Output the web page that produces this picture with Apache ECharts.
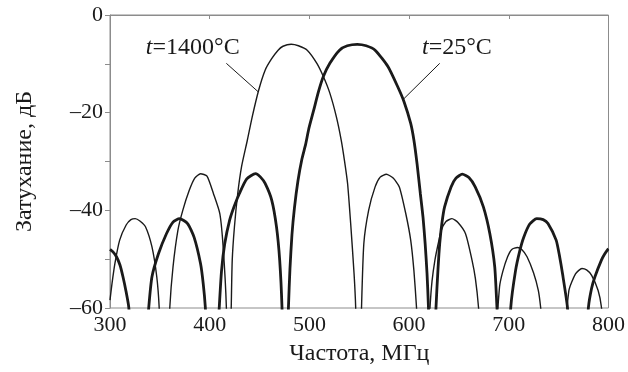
<!DOCTYPE html>
<html>
<head>
<meta charset="utf-8">
<script src="https://cdn.jsdelivr.net/npm/echarts@6/dist/echarts.min.js"></script>
<style>
html,body{margin:0;padding:0;background:#fff;}
#main{width:628px;height:372px;}
</style>
</head>
<body>
<div id="main"></div>
<script>
// затухание, дБ от частоты, МГц
var hot1400 = [
	[300,-58.4],[302,-55],[304.9,-50.9],[309.7,-46.1],[316.2,-43],[321,-41.9],[325.3,-41.7],[330,-42.2],[335.7,-43.4],
	[342.1,-47.5],[346.9,-53.6],[349.3,-59.8],[354.5,-85],[360,-59.8],[363.2,-51.6],[368.1,-44.1],[373,-40],
	[379.5,-35.9],[385,-33.4],[390.8,-32.5],[397.3,-33],[403.8,-36.6],[410.2,-40.7],[413.5,-47.5],[416.7,-59.8],
	[419,-85],[421.6,-59.8],[422.6,-50.2],[424.8,-43.4],[428.1,-36.6],[432,-31],[437.8,-25.6],[442.7,-20.8],
	[449.1,-15.4],[455.6,-11.3],[462,-9],[468.6,-7.2],[473.5,-6.4],[481.7,-6],[489,-6.3],[497.8,-7.2],
	[507.5,-9.9],[514,-12.6],[520.5,-16],[527,-20.8],[531.9,-25.6],[535.1,-29.7],[538.3,-34.5],[541.5,-43],
	[544.8,-53],[546.4,-59.8],[549.3,-85],[552.3,-59.8],[554.6,-46.8],[559.4,-40],[565.9,-35.2],[571,-33.2],
	[577.2,-32.6],[584,-33.4],[590.2,-35.2],[596.7,-40.7],[601.6,-46.1],[604.8,-52.3],[607.4,-59.8],[614,-85],
	[621,-59.8],[623,-54.5],[625.9,-50.2],[629,-47],[632.3,-44.1],[637,-42.3],[643,-41.7],[649,-42.5],
	[656.6,-44.8],[663.1,-50.2],[666.5,-54],[669.6,-59.8],[679,-85],[690.7,-55.7],[694,-52.5],[698.8,-49.5],
	[703,-48],[708.6,-47.6],[713,-48],[718.3,-49.5],[724.8,-52.8],[729.6,-56.4],[731.9,-59.8],[745,-85],
	[760.3,-56.4],[766.9,-53],[773.4,-51.9],[778,-52.2],[783.1,-53.3],[789.6,-56.4],[792.9,-59.8],[800,-75]
];
var room25 = [
	[300,-48],[303,-48.5],[306.5,-49.5],[310,-51.2],[313,-53.6],[316,-56.5],[318.8,-59.8],[329,-85],[338.9,-59.8],
	[342.1,-53.6],[348.6,-48.9],[356.6,-44.8],[363.2,-42.4],[369.7,-41.7],[377.8,-42.7],[384.3,-45.5],[390.8,-50.9],
	[393.5,-55],[395.6,-59.8],[402.6,-85],[409.6,-59.8],[411.9,-52.3],[415.1,-46.8],[420,-42],[424.5,-39.2],
	[429.7,-36.6],[437,-33.6],[446,-32.5],[451,-33.2],[455.6,-34.5],[462.2,-37.9],[467,-43.4],[470.2,-50.2],
	[472.5,-59.8],[475.8,-85],[479,-59.8],[480.5,-52],[482.5,-45],[485,-39.5],[488.5,-34],[492.5,-29.5],
	[496.2,-26.5],[499.4,-23.3],[504.3,-19.5],[509.1,-15.7],[514,-12.6],[520.5,-9.9],[530.2,-7.2],[538,-6.3],
	[548,-6],[557,-6.3],[565.9,-7.2],[578.9,-10.6],[588.6,-14.7],[595,-17.8],[601.6,-22.2],[604.8,-25.6],
	[608,-30.5],[611.3,-36.6],[614,-41.5],[616.1,-46.8],[618,-53],[619.4,-59.8],[623,-85],[627,-59.8],
	[629,-52],[630.7,-46.8],[633,-42.5],[635.6,-39.3],[642.1,-35.2],[647,-33.4],[653.4,-32.6],[660,-33.3],
	[666.3,-35.2],[674.5,-39.3],[681,-44.8],[685.9,-51.6],[688.1,-59.8],[695,-85],[702,-59.8],[706.8,-52.3],
	[711,-48.3],[715,-45.5],[721,-42.8],[728,-41.7],[734.5,-41.9],[739.3,-42.7],[747.5,-46.1],[751,-49.5],
	[753.9,-53],[758.8,-59.8],[769.4,-85],[779.9,-59.8],[783,-56],[786.4,-53.6],[792.9,-50.2],[796,-49],
	[799.4,-48],[800,-47.9]
];
// подписи кривых и выноски
var labelHot = {text:'1400°C', at:[383,-6.6], from:[416.7,-9.9], to:[448.5,-15.7]};
var labelRoom = {text:'25°C', at:[648,-6.6], from:[630.7,-9.9], to:[593.5,-17.4]};

var serif = '"Liberation Serif","DejaVu Serif",serif';
var ink = '#1a1a1a';

function tag(lb){
	return {
		symbol:'circle', symbolSize:0, silent:true,
		itemStyle:{color:'transparent'},
		label:{
			show:true, position:'inside',
			formatter:'{i|t}{n|=' + lb.text + '}',
			rich:{
				i:{fontFamily:serif, fontStyle:'italic', fontSize:24, color:ink},
				n:{fontFamily:serif, fontSize:24, color:ink}
			}
		},
		data:[{coord:lb.at}]
	};
}
function leader(lb){
	return {
		symbol:['none','none'], silent:true,
		label:{show:false},
		lineStyle:{color:ink, width:1, type:'solid'},
		data:[[{coord:lb.from},{coord:lb.to}]]
	};
}

var dom = document.getElementById('main');
var myChart = echarts.init(dom);
var option = {
	animation:false,
	backgroundColor:'#fff',
	grid:{
		left:110, right:4, top:15, bottom:64,
		show:true, borderColor:'#8c8c8c', borderWidth:1
	},
	xAxis:{
		type:'value', min:300, max:800, interval:100,
		name:'Частота, МГц', nameLocation:'middle', nameGap:34,
		nameTextStyle:{fontFamily:serif, fontSize:24, color:ink},
		axisLine:{lineStyle:{color:'#8c8c8c'}},
		axisTick:{length:4, lineStyle:{color:'#8c8c8c'}},
		axisLabel:{fontFamily:serif, fontSize:22, color:ink, margin:6},
		splitLine:{show:false}
	},
	yAxis:{
		type:'value', min:-60, max:0, interval:10,
		name:'Затухание, дБ', nameLocation:'middle', nameGap:73,
		nameTextStyle:{fontFamily:serif, fontSize:24, color:ink},
		axisLine:{show:true, lineStyle:{color:'#8c8c8c'}},
		axisTick:{show:true, length:5, lineStyle:{color:'#8c8c8c'}},
		axisLabel:{
			fontFamily:serif, fontSize:22, color:ink, margin:7,
			formatter:function(v){
				if(v == 0) return '0';
				if(v % 20 != 0) return '';
				return '–' + Math.abs(v);
			}
		},
		splitLine:{show:false}
	},
	series:[
		{
			name:'t=1400°C', type:'line', data:hot1400,
			showSymbol:false, smooth:0.2, clip:true,
			lineStyle:{color:ink, width:1.4},
			markPoint:tag(labelHot),
			markLine:leader(labelHot)
		},
		{
			name:'t=25°C', type:'line', data:room25,
			showSymbol:false, smooth:0.2, clip:true,
			lineStyle:{color:ink, width:2.8},
			markPoint:tag(labelRoom),
			markLine:leader(labelRoom)
		}
	]
};
myChart.setOption(option, true);
</script>
</body>
</html>
